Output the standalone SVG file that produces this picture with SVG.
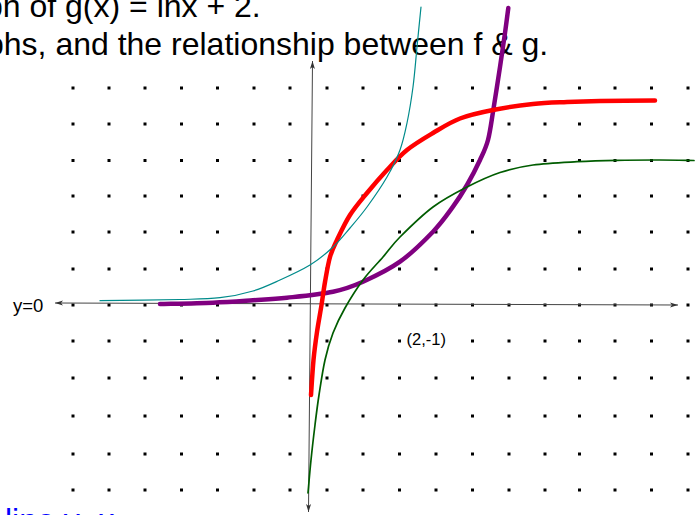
<svg xmlns="http://www.w3.org/2000/svg" xmlns:xlink="http://www.w3.org/1999/xlink" width="700" height="515" viewBox="0 0 700 515">
<style>
.t{font-family:"Liberation Sans",Arial,sans-serif;fill:#000}
.big{font-size:32px}
.axis{stroke:#444;stroke-width:1;fill:none}
.crv{fill:none;stroke-linecap:round;stroke-linejoin:round}
</style>
<defs>
<rect id="dot" x="-1.5" y="-1.5" width="3" height="3" fill="#000"/>
<g id="rowL">
<use xlink:href="#dot" x="73"/><use xlink:href="#dot" x="109"/><use xlink:href="#dot" x="145"/><use xlink:href="#dot" x="181.5"/><use xlink:href="#dot" x="217.5"/><use xlink:href="#dot" x="254"/><use xlink:href="#dot" x="290"/><use xlink:href="#dot" x="327"/><use xlink:href="#dot" x="363"/><use xlink:href="#dot" x="399.5"/>
</g>
<g id="rowR">
<use xlink:href="#dot" x="472.5"/><use xlink:href="#dot" x="509"/><use xlink:href="#dot" x="545"/><use xlink:href="#dot" x="579.5"/><use xlink:href="#dot" x="615"/><use xlink:href="#dot" x="651.5"/><use xlink:href="#dot" x="688"/>
</g>
<g id="row">
<use xlink:href="#rowL"/><use xlink:href="#dot" x="436"/><use xlink:href="#rowR"/>
</g>
<marker id="arr" viewBox="0 0 8 6" refX="8" refY="3" markerWidth="8" markerHeight="6" markerUnits="userSpaceOnUse" orient="auto-start-reverse">
<path d="M0,0.5 L8,3 L0,5.5 L2,3 Z" fill="#333"/>
</marker>
</defs>
<rect width="700" height="515" fill="#fff"/>
<g id="title">
<text class="t big" x="-15" y="16.5">ph of g(x) = lnx + 2.</text>
<text class="t big" x="-14" y="54.5">phs, and the relationship between f &amp; g.</text>
</g>
<g id="grid">
<use xlink:href="#row" y="88"/><use xlink:href="#row" y="124"/><use xlink:href="#row" y="160.5"/><use xlink:href="#row" y="196"/><use xlink:href="#row" y="232"/><use xlink:href="#row" y="269"/><use xlink:href="#row" y="305"/>
<use xlink:href="#rowL" y="341"/><use xlink:href="#rowR" y="341"/>
<use xlink:href="#row" y="378"/><use xlink:href="#row" y="416"/><use xlink:href="#row" y="454"/><use xlink:href="#row" y="490"/>
</g>
<g id="axes">
<line class="axis" x1="55" y1="303" x2="678" y2="305" marker-start="url(#arr)" marker-end="url(#arr)"/>
<line class="axis" x1="312.5" y1="61" x2="308.5" y2="512" marker-start="url(#arr)" marker-end="url(#arr)"/>
</g>
<g id="curves">
<path id="purple" class="crv" stroke="#800080" stroke-width="4.5" d="M160,304 C168.83,303.78 197.5,303.32 213,302.7 C228.5,302.08 240.67,301.13 253,300.3 C265.33,299.47 273.67,299.13 287,297.7 C300.33,296.27 320.33,294.37 333,291.7 C345.67,289.03 351.83,286.7 363,281.7 C374.17,276.7 388.33,270.03 400,261.7 C411.67,253.37 424.17,240.87 433,231.7 C441.83,222.53 447.33,214.48 453,206.7 C458.67,198.92 462.5,192.78 467,185 C471.5,177.22 476.5,167.5 480,160 C483.5,152.5 485.78,148.33 488,140 C490.22,131.67 491.3,122.17 493.3,110 C495.3,97.83 498.05,79.83 500,67 C501.95,54.17 503.62,42.83 505,33 C506.38,23.17 507.75,12.17 508.3,8"/>
<path id="red" class="crv" stroke="#ff0000" stroke-width="4.5" d="M311,395 C311.42,389.17 312.5,370.5 313.5,360 C314.5,349.5 315.67,341.17 317,332 C318.33,322.83 320.17,313.33 321.5,305 C322.83,296.67 323.58,290 325,282 C326.42,274 328,264 330,257 C332,250 333.67,247 337,240 C340.33,233 345,222.83 350,215 C355,207.17 360.83,200.5 367,193 C373.17,185.5 380.33,177.17 387,170 C393.67,162.83 399.33,156.17 407,150 C414.67,143.83 424.17,138.25 433,133 C441.83,127.75 450,122.33 460,118.5 C470,114.67 480.83,112.42 493,110 C505.17,107.58 520.67,105.33 533,104 C545.33,102.67 555.83,102.5 567,102 C578.17,101.5 585.33,101.25 600,101 C614.67,100.75 645.83,100.58 655,100.5"/>
<path id="green" class="crv" stroke="#005c00" stroke-width="1.7" d="M308,493 C308.5,487.5 309.83,471.33 311,460 C312.17,448.67 313.67,435.83 315,425 C316.33,414.17 317.33,405.83 319,395 C320.67,384.17 322.67,370.33 325,360 C327.33,349.67 329.67,341.67 333,333 C336.33,324.33 340,316.83 345,308 C350,299.17 356.67,288.5 363,280 C369.33,271.5 376.83,264.17 383,257 C389.17,249.83 391.67,245.33 400,237 C408.33,228.67 421.83,215.33 433,207 C444.17,198.67 455.83,192.75 467,187 C478.17,181.25 489,176.17 500,172.5 C511,168.83 520.17,166.8 533,165 C545.83,163.2 563,162.48 577,161.7 C591,160.92 603.17,160.58 617,160.3 C630.83,160.02 647.17,159.97 660,160 C672.83,160.03 688.33,160.42 694,160.5"/>
<path id="teal" class="crv" stroke="#008b8b" stroke-width="1.2" d="M100,300.7 C113.3,300.5 160,300 180,299.5 C200,299 207.8,299.1 220,297.7 C232.2,296.3 243,294 253,291 C263,288 270.5,284.3 280,280 C289.5,275.7 301.3,270.3 310,265 C318.7,259.7 325.3,254.2 332,248 C338.7,241.8 344.2,234.8 350,228 C355.8,221.2 360.8,215.5 367,207 C373.2,198.5 381.5,186.5 387,177 C392.5,167.5 396.7,159 400,150 C403.3,141 404.8,133.5 407,123 C409.2,112.5 411.3,99.7 413,87 C414.7,74.3 415.7,60.3 417,47 C418.3,33.7 420.3,13.7 421,7"/>
</g>
<g id="labels">
<text class="t" x="13" y="311.5" font-size="18.5">y=0</text>
<text class="t" x="406.5" y="344.5" font-size="16.5">(2,-1)</text>
<text class="t big" x="5" y="531" style="fill:#0000ff">line y=x</text>
</g>
</svg>
